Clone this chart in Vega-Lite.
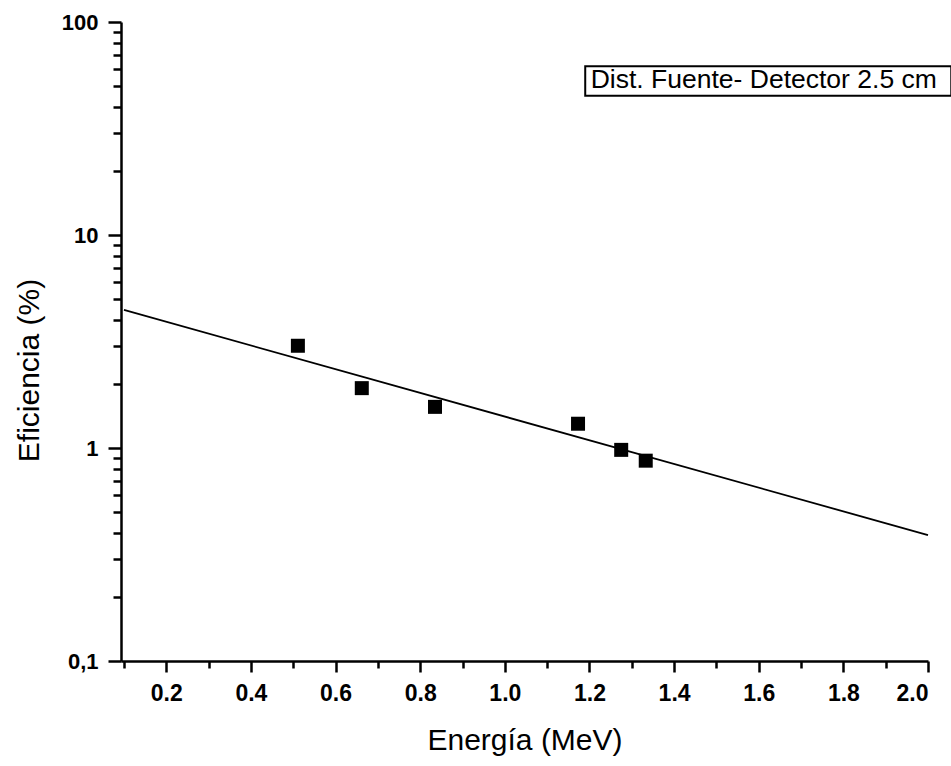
{
  "$schema": "https://vega.github.io/schema/vega-lite/v6.json",
  "width": 807,
  "height": 639,
  "autosize": {"type": "none"},
  "padding": {"left": 121, "top": 22, "right": 23, "bottom": 105},
  "background": "white",
  "config": {
    "view": {"stroke": null},
    "font": "Liberation Sans",
    "axis": {"grid": false, "domainColor": "black", "tickColor": "black", "labelColor": "black", "titleColor": "black"}
  },
  "datasets": {
    "medidas": [
      {"energia": 0.511, "eficiencia": 3.02},
      {"energia": 0.662, "eficiencia": 1.91},
      {"energia": 0.835, "eficiencia": 1.56},
      {"energia": 1.173, "eficiencia": 1.30},
      {"energia": 1.275, "eficiencia": 0.98},
      {"energia": 1.333, "eficiencia": 0.872}
    ],
    "ajuste": [
      {"energia": 0.1, "eficiencia": 4.45},
      {"energia": 2.0, "eficiencia": 0.39}
    ]
  },
  "layer": [
    {
      "data": {"name": "ajuste"},
      "mark": {"type": "line", "color": "black", "strokeWidth": 1.8},
      "encoding": {
        "x": {
          "field": "energia", "type": "quantitative",
          "scale": {"domain": [0.093, 2.0], "nice": false, "zero": false},
          "axis": {"orient": "bottom", "values": [0.1, 0.3, 0.5, 0.7, 0.9, 1.1, 1.3, 1.5, 1.7, 1.9], "tickSize": 7, "tickWidth": 2.5, "labels": false, "domain": false, "title": null}
        },
        "y": {
          "field": "eficiencia", "type": "quantitative",
          "scale": {"type": "log", "domain": [0.1, 100], "nice": false},
          "axis": {"orient": "left", "values": [0.2, 0.3, 0.4, 0.5, 0.6, 0.7, 0.8, 0.9, 2, 3, 4, 5, 6, 7, 8, 9, 20, 30, 40, 50, 60, 70, 80, 90], "tickSize": 8, "tickWidth": 2.5, "labels": false, "domain": false, "title": null}
        }
      }
    },
    {
      "data": {"name": "medidas"},
      "mark": {"type": "square", "color": "black", "filled": true, "opacity": 1, "size": 196},
      "encoding": {
        "x": {
          "field": "energia", "type": "quantitative",
          "axis": {"orient": "bottom", "values": [0.2, 0.4, 0.6, 0.8, 1.0, 1.2, 1.4, 1.6, 1.8, 2.0], "format": ".1f", "tickSize": 11, "tickWidth": 2.5, "domainWidth": 2.5, "labelFontSize": 23, "labelFontWeight": "bold", "labelPadding": 10, "title": "Energía (MeV)", "titleFontSize": 30, "titleFontWeight": "normal", "titlePadding": 20}
        },
        "y": {
          "field": "eficiencia", "type": "quantitative",
          "axis": {"orient": "left", "values": [0.1, 1, 10, 100], "labelExpr": "datum.value < 1 ? '0,1' : format(datum.value, 'd')", "tickSize": 13, "tickWidth": 2.5, "domainWidth": 2.5, "labelFontSize": 22, "labelFontWeight": "bold", "labelPadding": 10, "title": "Eficiencia (%)", "titleFontSize": 30, "titleFontWeight": "normal", "titlePadding": 17, "titleY": 348}
        }
      }
    },
    {
      "data": {"values": [{}]},
      "mark": {"type": "rect", "fill": "white", "stroke": "black", "strokeWidth": 2},
      "encoding": {
        "x": {"datum": 1.19, "type": "quantitative", "axis": null},
        "x2": {"datum": 2.055},
        "y": {"datum": 62, "type": "quantitative", "axis": null},
        "y2": {"datum": 45}
      }
    },
    {
      "data": {"values": [{}]},
      "mark": {"type": "text", "align": "left", "baseline": "middle", "fontSize": 26.5, "color": "black", "font": "Liberation Sans"},
      "encoding": {
        "x": {"datum": 1.203, "type": "quantitative", "axis": null},
        "y": {"datum": 53.5, "type": "quantitative", "axis": null},
        "text": {"value": "Dist. Fuente- Detector 2.5 cm"}
      }
    }
  ],
  "resolve": {"axis": {"x": "independent", "y": "independent"}}
}
